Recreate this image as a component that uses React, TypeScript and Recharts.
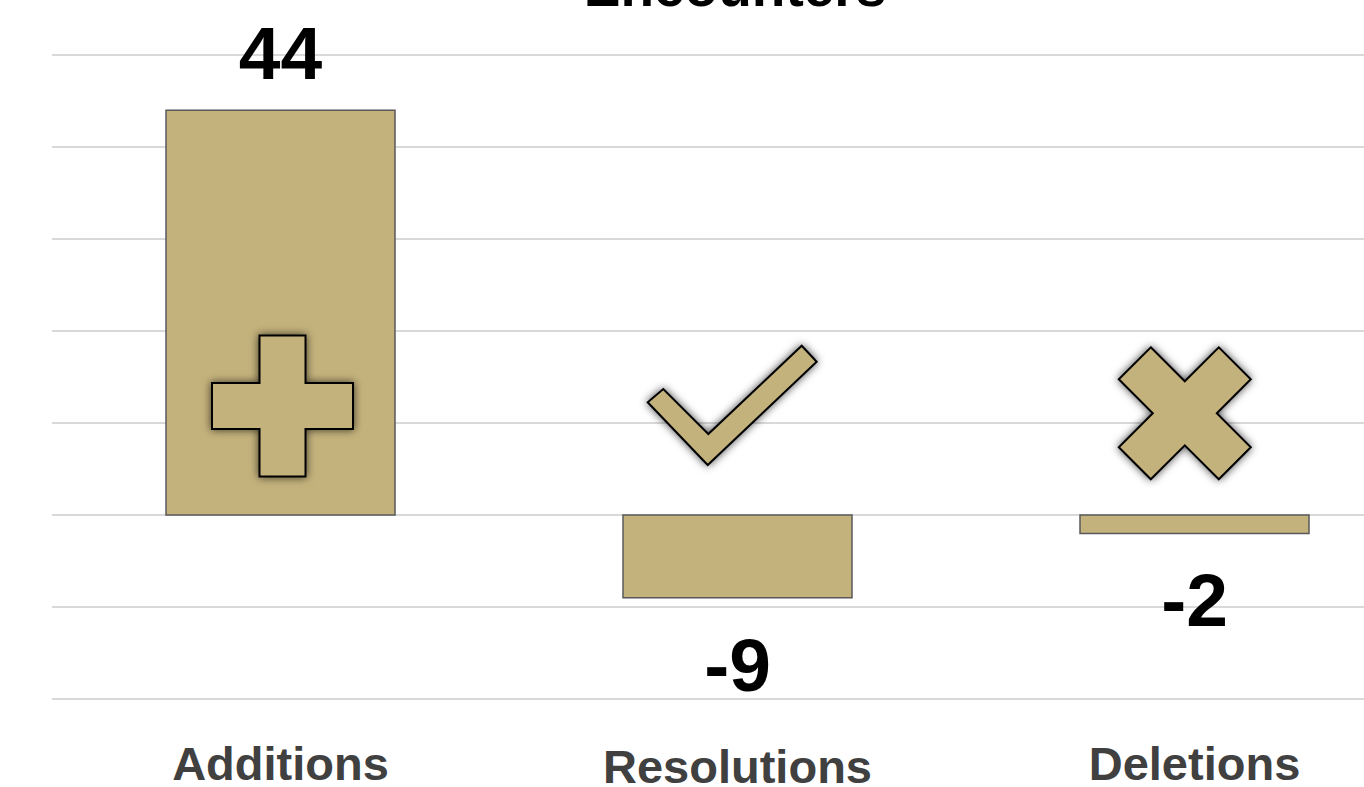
import { BarChart, Bar, XAxis, YAxis, CartesianGrid, LabelList } from 'recharts';

const categories = ['Additions', 'Resolutions', 'Deletions'];
const values = [44, -9, -2];
const yTicks = [-20, -10, 0, 10, 20, 30, 40, 50];
const icons = ['plus', 'check', 'cross'];

const rows = categories.map((name, i) => ({ name, value: values[i], icon: icons[i] }));

const GOLD = '#c4b27c';

function ValueLabel(props: any) {
  const { x, y, width, height, value } = props;
  const top = Math.min(y, y + height);
  const bottom = Math.max(y, y + height);
  const cx = x + width / 2;
  const ly = value >= 0 ? top - 57 : bottom + 67;
  return (
    <text
      x={cx}
      y={ly}
      textAnchor="middle"
      dominantBaseline="central"
      fontFamily="'Liberation Sans', Arial, sans-serif"
      fontWeight={700}
      fontSize={75}
      fill="#000"
    >
      {value}
    </text>
  );
}

function IconLabel(props: any) {
  const { x, y, width, height, value, index } = props;
  const top = Math.min(y, y + height);
  const bottom = Math.max(y, y + height);
  const cx = x + width / 2;
  const zy = value >= 0 ? bottom : top;
  const kind = rows[index].icon;
  let pts: number[][] = [];
  if (kind === 'plus') {
    const ox = cx + 2, oy = zy - 109, a = 70.5, w = 23;
    pts = [
      [-w, -a], [w, -a], [w, -w], [a, -w], [a, w], [w, w],
      [w, a], [-w, a], [-w, w], [-a, w], [-a, -w], [-w, -w],
    ].map(([px, py]) => [ox + px, oy + py]);
  } else if (kind === 'check') {
    pts = [
      [-29.2, -81], [-74.2, -126], [-89.8, -112.7], [-29.8, -50],
      [79.2, -153.3], [64.2, -169.3],
    ].map(([px, py]) => [cx + px, zy + py]);
  } else {
    const ox = cx - 9.7, oy = zy - 101.7, a = 66, b = 34, n = 32;
    pts = [
      [-b, -a], [0, -n], [b, -a], [a, -b], [n, 0], [a, b],
      [b, a], [0, n], [-b, a], [-a, b], [-n, 0], [-a, -b],
    ].map(([px, py]) => [ox + px, oy + py]);
  }
  return (
    <polygon
      points={pts.map((p) => p.join(',')).join(' ')}
      fill={GOLD}
      stroke="#000"
      strokeWidth={2}
      strokeLinejoin="miter"
      filter="url(#iconShadow)"
    />
  );
}

function CategoryTick(props: any) {
  const { x, y, payload, index } = props;
  return (
    <text
      x={x}
      y={y + 56 + (index === 1 ? 3 : 0)}
      textAnchor="middle"
      dominantBaseline="central"
      fontFamily="'Liberation Sans', Arial, sans-serif"
      fontWeight={700}
      fontSize={47}
      fill="#404040"
    >
      {payload.value}
    </text>
  );
}

export default function App() {
  return (
    <div
      style={{
        position: 'absolute',
        left: 0,
        top: 0,
        width: 1364,
        height: 787,
        overflow: 'hidden',
        background: '#fff',
      }}
    >
      <BarChart
        width={1433}
        height={787}
        data={rows}
        margin={{ top: 55, right: 10, bottom: 0, left: 52 }}
        barSize={229}
      >
        <defs>
          <filter id="iconShadow" x="-30%" y="-30%" width="160%" height="160%">
            <feDropShadow dx="0" dy="0" stdDeviation="4" floodColor="#000" floodOpacity="0.7" />
          </filter>
        </defs>
        <text
          x={735}
          y={6}
          textAnchor="middle"
          fontFamily="'Liberation Sans', Arial, sans-serif"
          fontWeight={700}
          fontSize={55}
          fill="#000"
        >
          Encounters
        </text>
        <CartesianGrid vertical={false} stroke="#d9d9d9" strokeWidth={2} />
        <XAxis
          dataKey="name"
          axisLine={false}
          tickLine={false}
          height={88}
          interval={0}
          tick={<CategoryTick />}
        />
        <YAxis hide domain={[-20, 50]} ticks={yTicks} width={0} />
        <Bar dataKey="value" fill={GOLD} stroke="#595959" strokeWidth={1.5} isAnimationActive={false}>
          <LabelList dataKey="value" content={<ValueLabel />} />
          <LabelList dataKey="value" content={<IconLabel />} />
        </Bar>
      </BarChart>
    </div>
  );
}
